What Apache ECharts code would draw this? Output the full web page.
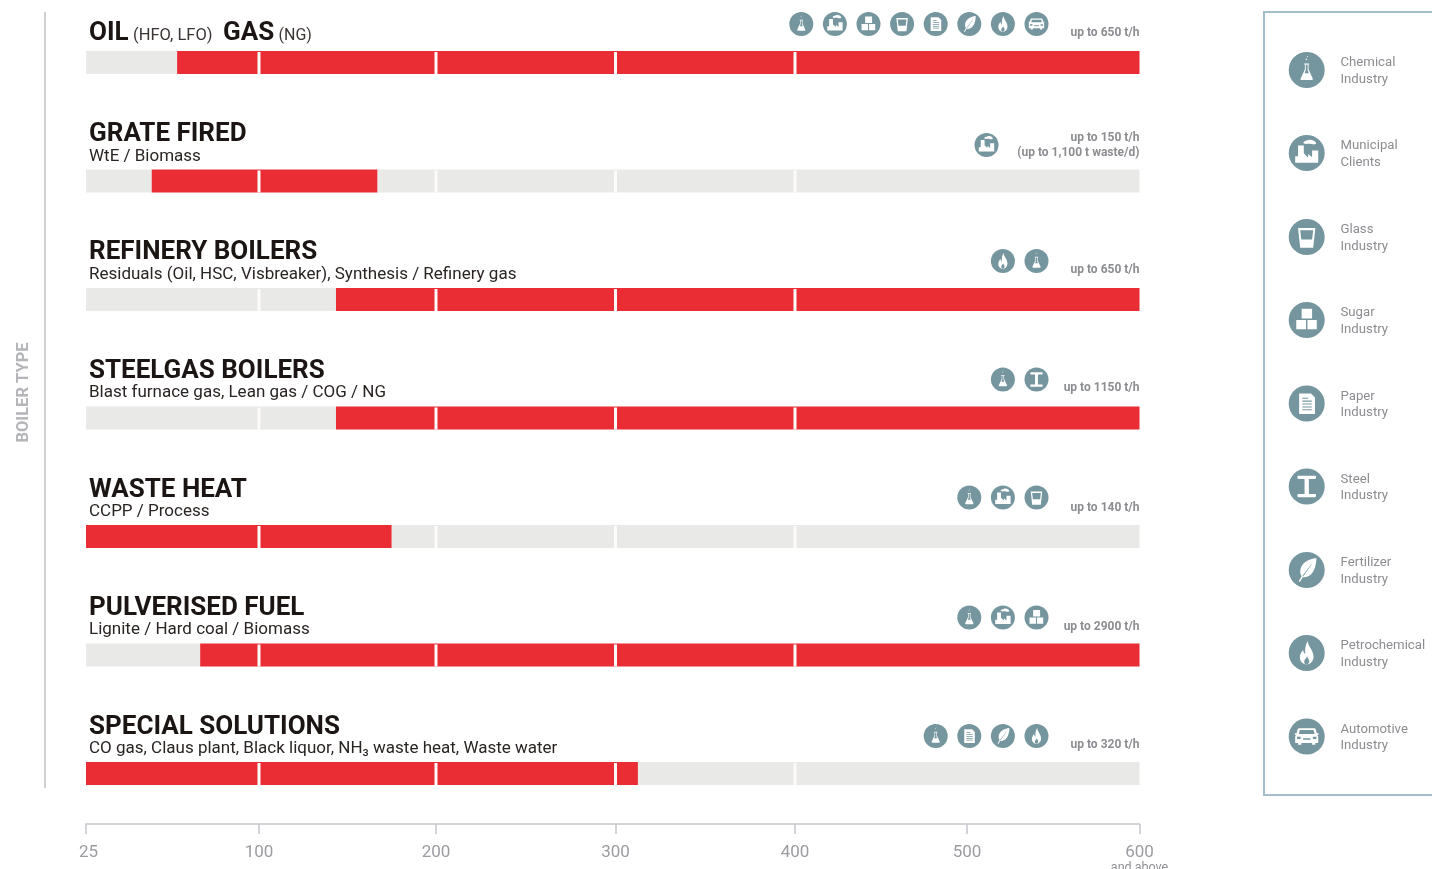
<!DOCTYPE html>
<html>
<head>
<meta charset="utf-8">
<style>html,body{margin:0;padding:0;background:#fff;overflow:hidden}#chart{width:1432px;height:869px}</style>
<script src="https://cdn.jsdelivr.net/npm/echarts@6/dist/echarts.min.js"></script>
</head>
<body>
<div id="chart"></div>
<script>
// Boiler capacity ranges in t/h, one row per boiler type.
const boilerTypes = ['OIL / GAS', 'GRATE FIRED', 'REFINERY BOILERS', 'STEELGAS BOILERS', 'WASTE HEAT', 'PULVERISED FUEL', 'SPECIAL SOLUTIONS'];
const rangeFrom = [64.5, 53.5, 143.5, 143.5, 25, 74.5, 25];
const rangeTo = [600, 167, 600, 600, 175, 600, 312.5];
const axisTicks = [25, 100, 200, 300, 400, 500, 600];
const dividerTicks = [100, 200, 300, 400];
const fuels = ['', 'WtE / Biomass', 'Residuals (Oil, HSC, Visbreaker), Synthesis / Refinery gas', 'Blast furnace gas, Lean gas / COG / NG', 'CCPP / Process', 'Lignite / Hard coal / Biomass', 'CO gas, Claus plant, Black liquor, NH₃ waste heat, Waste water'];
const capacities = ['up to 650 t/h', 'up to 150 t/h\n(up to 1,100 t waste/d)', 'up to 650 t/h', 'up to 1150 t/h', 'up to 140 t/h', 'up to 2900 t/h', 'up to 320 t/h'];
const rowIndustries = [
  ['chemical', 'municipal', 'sugar', 'glass', 'paper', 'fertilizer', 'petrochemical', 'automotive'],
  ['municipal'],
  ['petrochemical', 'chemical'],
  ['chemical', 'steel'],
  ['chemical', 'municipal', 'glass'],
  ['chemical', 'municipal', 'sugar'],
  ['chemical', 'paper', 'fertilizer', 'petrochemical']
];
const industryKeys = ['chemical', 'municipal', 'glass', 'sugar', 'paper', 'steel', 'fertilizer', 'petrochemical', 'automotive'];
const industryNames = ['Chemical\nIndustry', 'Municipal\nClients', 'Glass\nIndustry', 'Sugar\nIndustry', 'Paper\nIndustry', 'Steel\nIndustry', 'Fertilizer\nIndustry', 'Petrochemical\nIndustry', 'Automotive\nIndustry'];

// The capacity scale is stretched unevenly between its ticks: each tick sits at a fixed axis place.
const tickPlaces = [0, 173, 350, 529.5, 709, 881, 1053.5];
function place(v) {
  for (let i = 1; i < axisTicks.length; i++) {
    if (v <= axisTicks[i]) {
      const t = (v - axisTicks[i - 1]) / (axisTicks[i] - axisTicks[i - 1]);
      return tickPlaces[i - 1] + t * (tickPlaces[i] - tickPlaces[i - 1]);
    }
  }
  return tickPlaces[tickPlaces.length - 1];
}

const RED = '#ea2c35', GREY = '#e9e9e8', INK = '#1b1614', TONE = '#75969f', MUTED = '#8c8d91';
const FONT = 'Roboto, "Open Sans", sans-serif';

// Pictograms drawn on a circle of radius 50 centred on the origin.
const glyphs = {
  chemical: {
    light: 'M-7,-18H7V-15H5V-2L17,24Q18,28 14,28H-14Q-18,28 -17,24L-5,-2V-15H-7ZM-2.5,-15V0L-6,9H6L2.5,0V-15ZM-1,-28A2,2 0 1 1 -0.9,-28ZM2,-36A1.5,1.5 0 1 1 2.1,-36Z'
  },
  municipal: {
    light: 'M-32,27V9H-24V-21H-8V1L4,13V3L15,12V-7H32V27ZM-9,-27C-10,-34 0,-33 4,-36C12,-39 24,-35 26,-28C28,-24 20,-23 12,-25C5,-27 -2,-23 -9,-27Z'
  },
  sugar: {
    light: 'M-14,-31H15V-4H-14ZM-29,0H-2V26H-29ZM2,0H28V26H2Z'
  },
  glass: {
    light: 'M-24,-25H24L18,30H-18ZM-18,-19L-15,7H15L18,-19Z'
  },
  paper: {
    light: 'M-21,-28H12L23,-17V29H-21Z',
    tone: 'M-12,-8H14V-5H-12ZM-12,0H14V3H-12ZM-12,8H14V11H-12ZM-12,16H14V19H-12ZM-12,-16H4V-13H-12Z'
  },
  steel: {
    light: 'M-23,-30H23Q26,-30 26,-26Q26,-21 23,-21H6V21H23Q26,21 26,25Q26,30 23,30H-23Q-26,30 -26,25Q-26,21 -23,21H-6V-21H-23Q-26,-21 -26,-26Q-26,-30 -23,-30Z'
  },
  fertilizer: {
    light: 'M27,-33C8,-31 -18,-20 -18,5C-18,10 -16,14 -14,17L-22,31L-19,33L-11,20C7,23 26,8 27,-33Z',
    tone: 'M-12,17L13,-17L14,-16L-10,18Z'
  },
  petrochemical: {
    light: 'M3,-33C4,-16 20,-7 19,12C18,24 9,32 0,32C-10,32 -19,24 -19,12C-19,2 -13,-4 -10,-8C-9,-2 -7,2 -4,3C-6,-10 -3,-24 3,-33Z',
    tone: 'M1,9C3,15 8,18 7,24C6,29 3,32 0,32C-4,32 -7,29 -7,24C-7,18 -1,15 1,9Z'
  },
  automotive: {
    light: 'M-21,-23H21Q24,-23 25,-20L28,-9H33V-5H29Q32,-3 32,1V18H24V23H15V18H-15V23H-24V18H-32V1Q-32,-3 -29,-5H-33V-9H-28L-25,-20Q-24,-23 -21,-23Z',
    tone: 'M-19,-18L-22,-7H22L19,-18ZM-27,1H-17V7H-27ZM17,1H27V7H17ZM-10,5H10V9H-10Z'
  }
};

function label(text, x, y, style) {
  return {
    type: 'text', x, y, z: 20,
    style: Object.assign({ text, fontFamily: FONT, verticalAlign: 'middle', fill: INK }, style)
  };
}

const graphics = [];

// Left rule and rotated axis caption
graphics.push({ type: 'line', z: 1, shape: { x1: 45, y1: 12, x2: 45, y2: 788 }, style: { stroke: '#c2c2c6', lineWidth: 1.5 } });
const axisCaption = label('BOILER TYPE', 23.5, 392.5, { fontSize: 16.5, fontWeight: 'bold', fill: '#b4b5b9', align: 'center' });
axisCaption.rotation = Math.PI / 2;
graphics.push(axisCaption);

// Row headings
const titleY = [33, 134, 252, 371, 490, 608, 727];
const fuelY = [0, 157, 274.5, 393, 512, 630, 749];
const titleStyle = { fontSize: 26, fontWeight: 'bold', fill: INK };
const fuelStyle = { fontSize: 17, fill: '#2a2523' };
graphics.push(label('OIL', 89, titleY[0], titleStyle));
graphics.push(label('(HFO, LFO)', 133, 36, { fontSize: 16.5, fill: '#3a3533' }));
graphics.push(label('GAS', 223, titleY[0], titleStyle));
graphics.push(label('(NG)', 278.5, 36, { fontSize: 16, fill: '#3a3533' }));
boilerTypes.forEach((name, i) => {
  if (i === 0) return;
  graphics.push(label(name, 89, titleY[i], titleStyle));
  graphics.push(label(fuels[i], 89, fuelY[i], fuelStyle));
});

// Capacity notes beside the industry pictograms
const capacityY = [33, 145.5, 270, 388, 508, 627, 745];
const capStyle = { fontSize: 12, fontWeight: 'bold', fill: MUTED, align: 'right', lineHeight: 15 };
capacities.forEach((t, i) => graphics.push(label(t, 1139.5, capacityY[i], capStyle)));

// Legend frame, open on the right
graphics.push({
  type: 'polyline', z: 1,
  shape: { points: [[1440, 12], [1264, 12], [1264, 795], [1440, 795]] },
  style: { stroke: '#a3bfca', lineWidth: 2, fill: 'none' }
});
const legendY = [70, 153, 237, 320, 403.5, 486.5, 570, 653, 736.5];
industryNames.forEach((t, i) => {
  graphics.push(label(t, 1340.5, legendY[i] + 1, { fontSize: 13.2, fill: MUTED, lineHeight: 16.5 }));
});

// Every pictogram placement: one per row entry, one per legend entry
const iconY = [24, 145, 261, 379.5, 497.5, 617.5, 736];
const iconRight = [1036.5, 986.5, 1036.5, 1036.5, 1036.5, 1036.5, 1036.5];
const placements = [];
rowIndustries.forEach((list, i) => {
  list.forEach((name, j) => {
    placements.push({ name, x: iconRight[i] - (list.length - 1 - j) * 33.6, y: iconY[i], r: 12 });
  });
});
industryKeys.forEach((name, i) => placements.push({ name, x: 1306.7, y: legendY[i], r: 18 }));

function renderIcon(params) {
  const p = placements[params.dataIndex];
  const g = glyphs[p.name];
  const children = [
    { type: 'circle', shape: { cx: 0, cy: 0, r: 50 }, style: { fill: TONE } },
    { type: 'path', shape: { pathData: g.light }, style: { fill: '#fff' } }
  ];
  if (g.tone) children.push({ type: 'path', shape: { pathData: g.tone }, style: { fill: TONE } });
  return { type: 'group', x: p.x, y: p.y, scaleX: p.r / 50, scaleY: p.r / 50, children };
}

const chart = echarts.init(document.getElementById('chart'), null, { renderer: 'canvas' });
const span = tickPlaces[tickPlaces.length - 1];

const dividers = [];
boilerTypes.forEach((_, row) => dividerTicks.forEach(v => dividers.push([place(v), row])));

chart.setOption({
  animation: false,
  backgroundColor: '#fff',
  // The last axis caption runs off the bottom edge, so the plot must not shrink to fit it
  grid: { left: 86, width: span, top: 3.25, height: 829.5, outerBoundsMode: 'none' },
  xAxis: {
    type: 'value', min: 0, max: span, position: 'bottom', offset: -8.75,
    axisLine: { show: true, lineStyle: { color: '#c6c6cb', width: 1.5 } },
    axisTick: { show: true, customValues: tickPlaces, length: 10, lineStyle: { color: '#c6c6cb', width: 1.5 } },
    splitLine: { show: false },
    axisLabel: {
      customValues: tickPlaces, margin: 19, fontFamily: FONT, fontSize: 17, lineHeight: 19, color: '#9b9ca1',
      hideOverlap: false, showMinLabel: true, showMaxLabel: true,
      formatter: p => {
        const v = axisTicks[tickPlaces.indexOf(p)];
        if (v === 25) return '{first|25}';
        return v === 600 ? '600\n{sub|and above}' : String(v);
      },
      rich: {
        first: { fontFamily: FONT, fontSize: 17, lineHeight: 19, color: '#9b9ca1', padding: [0, 0, 0, 5] },
        sub: { fontFamily: FONT, fontSize: 12.5, lineHeight: 11, color: '#8f9095' }
      }
    }
  },
  yAxis: { type: 'category', inverse: true, data: boilerTypes, show: false },
  series: [
    {
      name: 'below range', type: 'bar', stack: 'row', barWidth: 23, silent: true,
      itemStyle: { color: GREY }, data: rangeFrom.map(place)
    },
    {
      name: 'capacity range', type: 'bar', stack: 'row', barWidth: 23, silent: true,
      itemStyle: { color: RED }, data: rangeFrom.map((f, i) => place(rangeTo[i]) - place(f))
    },
    {
      name: 'above range', type: 'bar', stack: 'row', barWidth: 23, silent: true,
      itemStyle: { color: GREY }, data: rangeTo.map(t => span - place(t))
    },
    {
      // Thin white breaks through each bar at the hundreds
      name: 'dividers', type: 'custom', z: 5, silent: true, data: dividers,
      renderItem: (params, api) => {
        const c = api.coord([api.value(0), api.value(1)]);
        return { type: 'rect', shape: { x: c[0] - 1.5, y: c[1] - 10.5, width: 3, height: 22 }, style: { fill: '#fdfafa' } };
      },
      encode: { x: 0, y: 1 }
    },
    {
      name: 'industries', type: 'custom', coordinateSystem: 'none', z: 10, silent: true,
      data: placements.map((_, i) => [i]), renderItem: renderIcon
    }
  ],
  graphic: { elements: graphics }
});
</script>
</body>
</html>
